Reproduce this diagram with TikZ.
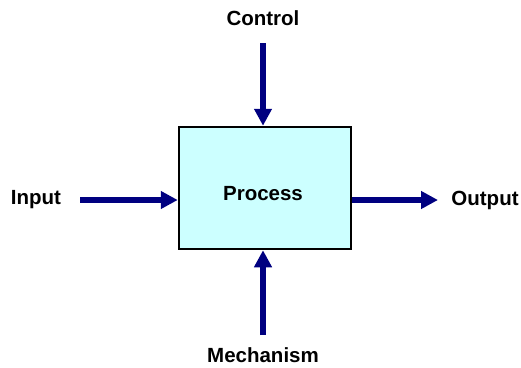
\documentclass[tikz,border=0pt]{standalone}
\usepackage{fontspec}
\setmainfont{Liberation Sans}
\usetikzlibrary{arrows.meta}
\definecolor{navy}{HTML}{000080}
\definecolor{boxfill}{HTML}{CCFFFF}
\begin{document}
\begin{tikzpicture}[x=1pt,y=-1pt,
  lbl/.style={font=\fontsize{20.5}{24}\selectfont\bfseries, inner sep=0pt},
  procbox/.style={draw=black, line width=2.5pt, fill=boxfill, minimum width=172pt, minimum height=122pt, inner sep=0pt},
  arr/.style={draw=navy, line width=5.5pt, -{Triangle[length=17pt,width=17pt]}, shorten >=0pt}]
\useasboundingbox (0,0) rectangle (521,367);
\node[procbox] (proc) at (265,188) {};
\node[lbl] (proclbl) at (263,194) {Process};
\node[lbl] (input) at (36,200) {Input};
\node[lbl] (output) at (485,200) {Output};
\node[lbl] (control) at (263,18) {Control};
\node[lbl] (mech) at (263,355.5) {Mechanism};
\coordinate (inS) at (80,200);
\coordinate (outE) at (438,200);
\coordinate (ctS) at (263,43);
\coordinate (meS) at (263,335);
\draw[arr] (inS) -- (proc.west |- inS);
\draw[arr] (proc.east |- outE) -- (outE);
\draw[arr] (ctS) -- (proc.north -| ctS);
\draw[arr] (meS) -- (proc.south -| meS);
\end{tikzpicture}
\end{document}
